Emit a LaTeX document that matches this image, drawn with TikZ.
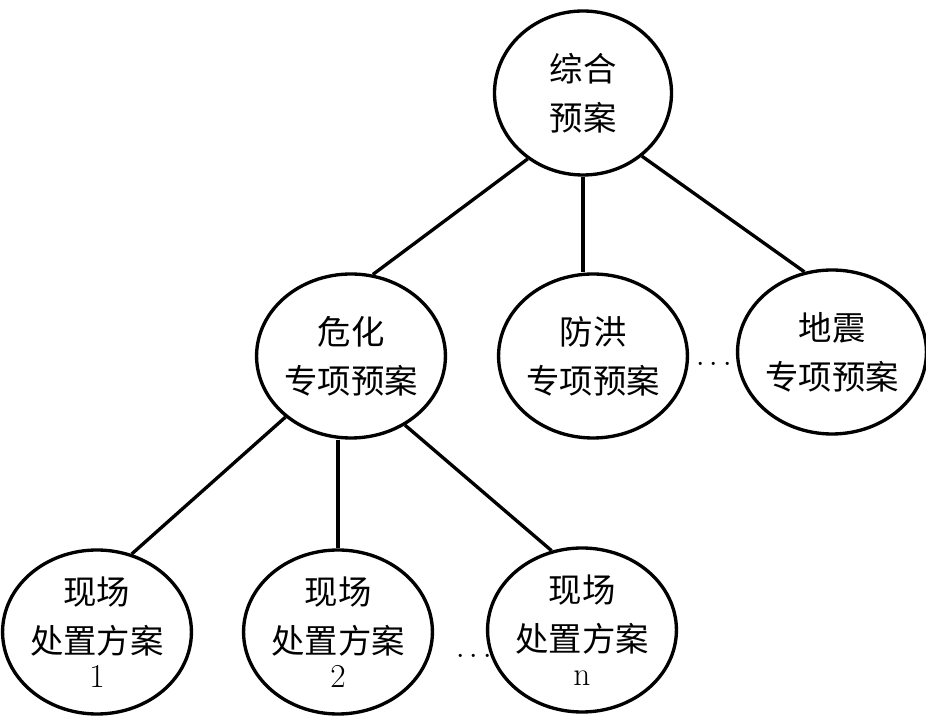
\documentclass[tikz,border=0pt]{standalone}
\usepackage{fontspec}
\newfontfamily\cjk{Noto Sans CJK SC}
\usepackage{tikz}
\usetikzlibrary{shapes,positioning}
\tikzstyle{plan} = [draw, ellipse, line width=1.9pt, inner sep=0pt,
    minimum width=3.54cm, minimum height=3.28cm, align=center,
    font=\cjk\fontsize{19}{28}\selectfont]
\tikzstyle{more} = [font=\fontsize{16}{18}\selectfont]
\tikzstyle{link} = [line width=1.9pt]

\begin{document}
\begin{tikzpicture}
  \useasboundingbox (0,0) rectangle (18.52,14.4);
  \node [plan] (zh) at (11.66,12.54) {综合\\预案};
  \node [plan, below of=zh, xshift=0.2cm, node distance = 5.26cm] (fh)
  {防洪\\专项预案};
  \node [plan, left of=fh, node distance = 4.84cm] (wh)
  {危化\\专项预案};
  \node [plan, right of=fh, yshift=0.08cm, node distance = 4.78cm] (dz)
  {地震\\专项预案};
  \node [more, right of=fh, yshift=-0.18cm, node distance = 2.42cm] (dots1)
  {$\cdots$};
  \node [plan, below of=wh, xshift=-0.26cm, node distance = 5.52cm] (xc2)
  {现场\\处置方案\\[-9pt]{\rmfamily 2}};
  \node [plan, left of=xc2, node distance = 4.82cm] (xc1)
  {现场\\处置方案\\[-9pt]{\rmfamily 1}};
  \node [plan, right of=xc2, yshift=0.04cm, node distance = 4.88cm] (xcn)
  {现场\\处置方案\\[-9pt]{\rmfamily n}};
  \node [more, right of=xc2, yshift=-0.5cm, node distance = 2.72cm] (dots2)
  {$\cdots$};
  \draw [link] (zh.230) -- (wh.75);
  \draw [link] (zh.south) -- (zh.south |- fh.north);
  \draw [link] (zh.313) -- (dz.109);
  \draw [link] (wh.223) -- (xc1.66);
  \draw [link] (wh.south -| xc2.north) -- (xc2.north);
  \draw [link] (wh.308) -- (xcn.111);
\end{tikzpicture}
\end{document}
